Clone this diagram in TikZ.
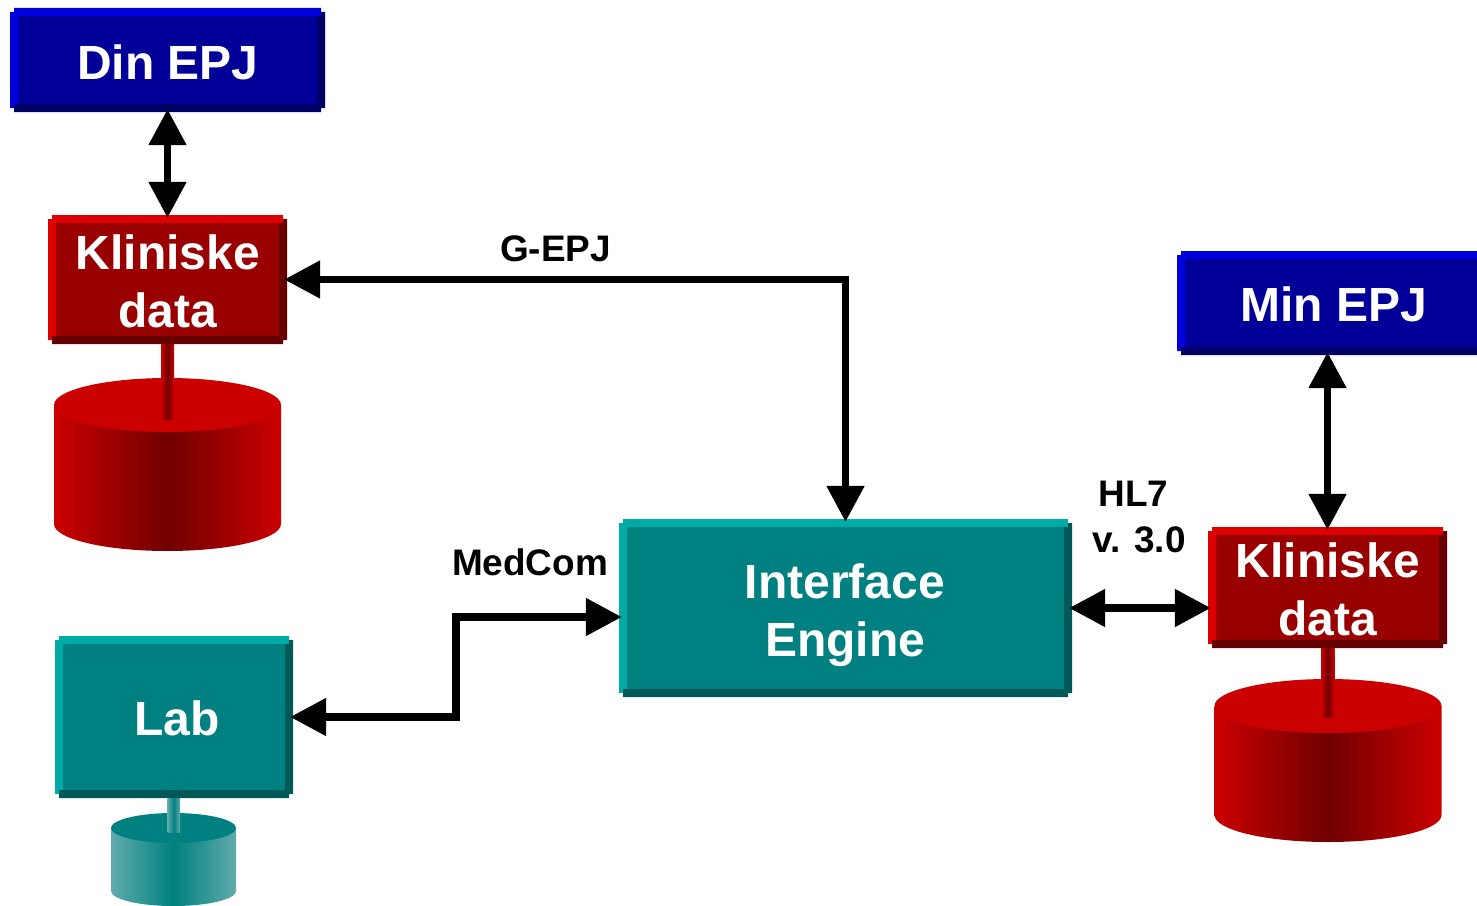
\documentclass[tikz,border=0pt]{standalone}
\usepackage{fontspec}
\setmainfont{Liberation Sans}
\usetikzlibrary{arrows.meta, calc}

\definecolor{blueM}{HTML}{000099}
\definecolor{blueL}{HTML}{0000DD}
\definecolor{blueD}{HTML}{000066}
\definecolor{redM}{HTML}{990000}
\definecolor{redL}{HTML}{DD0000}
\definecolor{redD}{HTML}{660000}
\definecolor{tealM}{HTML}{008080}
\definecolor{tealL}{HTML}{00ABA6}
\definecolor{tealD}{HTML}{005959}
\definecolor{redE}{HTML}{CC0000}
\definecolor{redC}{HTML}{700000}
\definecolor{redT}{HTML}{CC0000}
\definecolor{tealE}{HTML}{60ABAB}
\definecolor{tealC}{HTML}{008080}
\definecolor{tealT}{HTML}{008080}

\tikzset{
    boxframe/.style={inner sep=0pt, outer sep=0pt},
    boxlabel/.style={text=white, font=\bfseries\fontsize{36}{43.5}\selectfont, align=center, inner sep=0pt},
    smalllabel/.style={font=\bfseries\fontsize{27.7}{33}\selectfont, inner sep=0pt},
    link/.style={line width=5.8pt, shorten <=-2.2pt, shorten >=-2.2pt, {Triangle[length=27pt,width=27pt]}-{Triangle[length=27pt,width=27pt]}},
}

% name, left, top, right, bottom, colour
\newcommand{\bevelbox}[6]{
    \begin{scope}[shift={(#2,#3)}]
        \pgfmathsetmacro{\bw}{#4-#2}
        \pgfmathsetmacro{\bh}{#5-#3}
        \fill[#6M] (7,7) rectangle (\bw-7,\bh-7);
        \fill[#6L] (4,0) -- (\bw-4,0) -- (\bw-4,8) -- (8,8) -- (8,\bh-4) -- (0,\bh-4) -- (0,4) -- (4,4) -- cycle;
        \fill[#6D] (\bw,4) -- (\bw,\bh-4) -- (\bw-4,\bh-4) -- (\bw-4,\bh) -- (4,\bh) -- (4,\bh-8) -- (\bw-8,\bh-8) -- (\bw-8,8) -- (\bw-4,8) -- (\bw-4,4) -- cycle;
    \end{scope}
    \node[boxframe, minimum width=#4*0.75pt-#2*0.75pt, minimum height=#5*0.75pt-#3*0.75pt] (#1) at ({(#2+#4)/2},{(#3+#5)/2}) {};
}

% name, centre x, top, radius x, radius y, bottom, colour, stem end y
\newcommand{\disk}[8]{
    \shade[left color=#7E, right color=#7E, middle color=#7C]
        (#2-#4,#3+#5) -- (#2-#4,#6-#5) arc[start angle=180, end angle=0, x radius=#4, y radius=#5] -- (#2+#4,#3+#5) -- cycle;
    \fill[#7T] (#2,#3+#5) ellipse[x radius=#4, y radius=#5];
    \coordinate (#1) at (#2,#8);
}

% from node, to coordinate, colour
\newcommand{\stem}[3]{
    \shade[left color=#3E, right color=#3E, middle color=#3C] ($(#1.south)+(-6.5,0)$) rectangle ($(#2)+(6.5,0)$);
}

\begin{document}
\begin{tikzpicture}[x=0.75pt, y=-0.75pt]
    \clip (0,0) rectangle (1477,906);

    %Place disks
    \disk{diskDin}{167.5}{378}{113.5}{27}{551}{red}{419}
    \disk{diskMin}{1328}{679}{113.5}{27}{842}{red}{717}
    \disk{diskLab}{173.5}{813}{62.5}{15}{906}{teal}{832}

    %Place boxes
    \bevelbox{din}{10}{8}{325}{112}{blue}
    \bevelbox{klinDin}{48}{215}{287}{344}{red}
    \bevelbox{min}{1177}{251}{1492}{355}{blue}
    \bevelbox{klinMin}{1208}{527}{1447}{648}{red}
    \bevelbox{iface}{619}{519}{1072}{697}{teal}
    \bevelbox{lab}{55}{636}{293}{798}{teal}

    %Draw stems
    \stem{klinDin}{diskDin}{red}
    \stem{klinMin}{diskMin}{red}
    \stem{lab}{diskLab}{teal}

    %Place box texts
    \node[boxlabel] (dinText) at (168,62) {Din EPJ};
    \node[boxlabel] (klinDinText) at (168,281.5) {Kliniske\\data};
    \node[boxlabel] (minText) at (1334,304.5) {Min EPJ};
    \node[boxlabel] (klinMinText) at (1328,589) {Kliniske\\data};
    \node[boxlabel] (ifaceText) at (845,615) {Interface\\Engine};
    \node[boxlabel] (labText) at (177,718.5) {Lab};

    %Place labels
    \node[smalllabel] (gepj) at (555.5,249) {G-EPJ};
    \node[smalllabel] (medcom) at (530,562) {MedCom};
    \node[smalllabel] (hl) at (1133.5,494) {HL7};
    \node[smalllabel] (version) at (1139,540) {v. 3.0};
    \coordinate (ifaceIn) at (619,617);

    %Draw arrows
    \draw[link] (din.south) -- (klinDin.north);
    \draw[link] (klinDin.east) -| (iface.north);
    \draw[link] (lab.east) -- ++(163,0) |- (ifaceIn);
    \draw[link] (iface.east) -- (iface.east -| klinMin.west);
    \draw[link] (klinMin.north) -- (klinMin.north |- min.south);
\end{tikzpicture}
\end{document}
